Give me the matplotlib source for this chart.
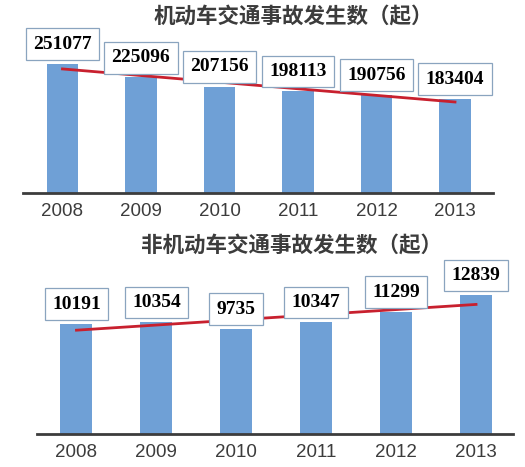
import matplotlib
matplotlib.use("Agg")
import matplotlib.pyplot as plt
import numpy as np

years = ["2008", "2009", "2010", "2011", "2012", "2013"]
motor_accidents = [251077, 225096, 207156, 198113, 190756, 183404]
nonmotor_accidents = [10191, 10354, 9735, 10347, 11299, 12839]

title_top = "机动车交通事故发生数（起）"
title_bottom = "非机动车交通事故发生数（起）"

bar_color = "#6fa0d6"
line_color = "#c8202e"
text_gray = "#3c3c3c"
cjk = ["Noto Sans CJK SC", "DejaVu Sans"]

W, H = 525, 467
fig = plt.figure(figsize=(W / 100, H / 100), dpi=100)


def draw_panel(rect, values, ylim_top, xlim):
    ax = fig.add_axes(rect)
    x = np.arange(len(values))
    ax.bar(x, values, width=0.4, color=bar_color, zorder=2)

    # linear trend line over the bars
    k, b = np.polyfit(x, values, 1)
    ax.plot([x[0], x[-1]], [k * x[0] + b, k * x[-1] + b],
            color=line_color, lw=2, zorder=3)

    for xi, v in zip(x, values):
        ax.annotate(str(v), (xi, v), xytext=(0, 8), textcoords="offset points",
                    ha="center", va="bottom", fontsize=14, fontweight="bold",
                    family="Liberation Serif", color="black", zorder=4,
                    bbox=dict(boxstyle="square,pad=0.38", fc="white",
                              ec="#8aa4bf", lw=0.9))

    ax.set_xlim(*xlim)
    ax.set_ylim(0, ylim_top)
    ax.set_xticks(x)
    ax.set_xticklabels(years, family="Liberation Sans", fontsize=13.5,
                       color=text_gray)
    ax.tick_params(axis="x", length=0, pad=7)
    ax.set_yticks([])
    for s in ["top", "right", "left"]:
        ax.spines[s].set_visible(False)
    ax.spines["bottom"].set_color(text_gray)
    ax.spines["bottom"].set_linewidth(2)
    ax.patch.set_alpha(0)
    return ax


# top panel: baseline at y=193 px, x from 23 to 493 px
top_px, base_px = 25, 193
draw_panel([23 / W, 1 - base_px / H, 470 / W, (base_px - top_px) / H],
           motor_accidents, (base_px - top_px) * 1946, (-0.503, 5.484))

# bottom panel: baseline at y=434 px, x from 37 to 513 px
top_px, base_px = 265, 434
draw_panel([37 / W, 1 - base_px / H, 476 / W, (base_px - top_px) / H],
           nonmotor_accidents, (base_px - top_px) * 92.5, (-0.494, 5.4625))

fig.text(293 / W, 1 - 16 / H, title_top, ha="center", va="center",
         family=cjk, fontsize=15.5, fontweight="bold", color=text_gray)
fig.text(292 / W, 1 - 245 / H, title_bottom, ha="center", va="center",
         family=cjk, fontsize=15.5, fontweight="bold", color=text_gray)

fig.savefig("out.png", dpi=100)
